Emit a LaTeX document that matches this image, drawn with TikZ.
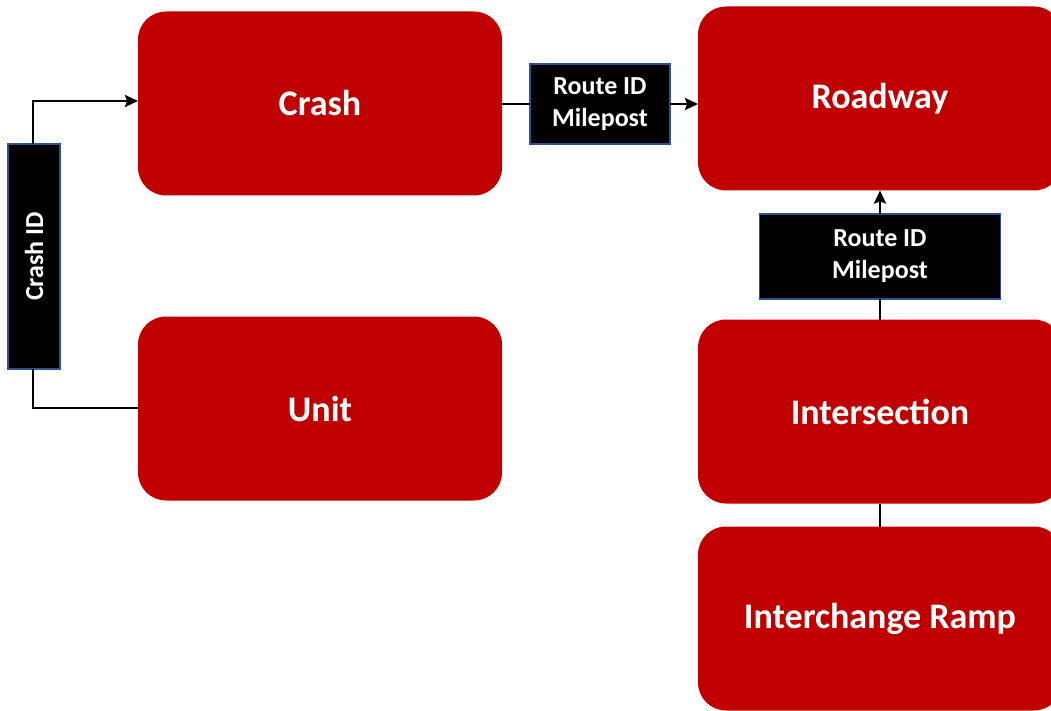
\documentclass[tikz,border=0pt]{standalone}
\usepackage{fontspec}
\setmainfont{Carlito}
\usetikzlibrary{arrows.meta}
\definecolor{boxred}{RGB}{192,0,0}
\definecolor{lblborder}{RGB}{47,82,143}
\begin{document}
\begin{tikzpicture}[x=1pt,y=-1pt,
  entity/.style={rectangle, rounded corners=28pt, fill=boxred, draw=none,
    text=white, font=\fontsize{36}{43}\selectfont\bfseries,
    minimum width=364pt, minimum height=184pt, inner sep=0pt, outer sep=0pt},
  keylabel/.style={rectangle, fill=black, draw=lblborder, line width=1.2pt,
    text=white, font=\fontsize{26}{32}\selectfont\bfseries, align=center,
    inner sep=0pt, outer sep=0pt},
  link/.style={draw=black, line width=2.8pt},
  arr/.style={link, -{Stealth[length=13pt,width=12pt,inset=2pt]}}]
\useasboundingbox (0,0) rectangle (1051,711);
\clip (0,0) rectangle (1051,711);
\fill[white] (0,0) rectangle (1051,711);
% entities
\node[entity] (crash) at (320,103.5) {Crash};
\node[entity] (unit) at (320,408.5) {Unit};
\node[entity] (roadway) at (880,98.5) {Roadway};
\node[entity] (inter) at (880,411.5) {Intersection};
\node[entity] (ramp) at (880,618.5) {Interchange Ramp};
% key labels
\node[keylabel, minimum width=225pt, minimum height=52pt, rotate=90] (cid) at (34,256.5) {Crash ID};
\node[keylabel, minimum width=140pt, minimum height=80pt] (r1) at (600,104) {Route ID\\Milepost};
\node[keylabel, minimum width=241pt, minimum height=85pt] (r2) at (880,256.5) {Route ID\\Milepost};
% connectors
\coordinate (cidx) at (33,0);
\draw[link] (unit.west |- 0,408) -| (cidx |- cid.west);
\draw[arr] (cidx |- cid.east) |- (crash.west |- 0,101);
\draw[link] (crash.east |- r1.west) -- (r1.west);
\draw[arr] (r1.east) -- (roadway.west |- r1.east);
\draw[link] (inter.north) -- (r2.south);
\draw[arr] (r2.north) -- (roadway.south);
\draw[link] (ramp.north) -- (inter.south);
\end{tikzpicture}
\end{document}
